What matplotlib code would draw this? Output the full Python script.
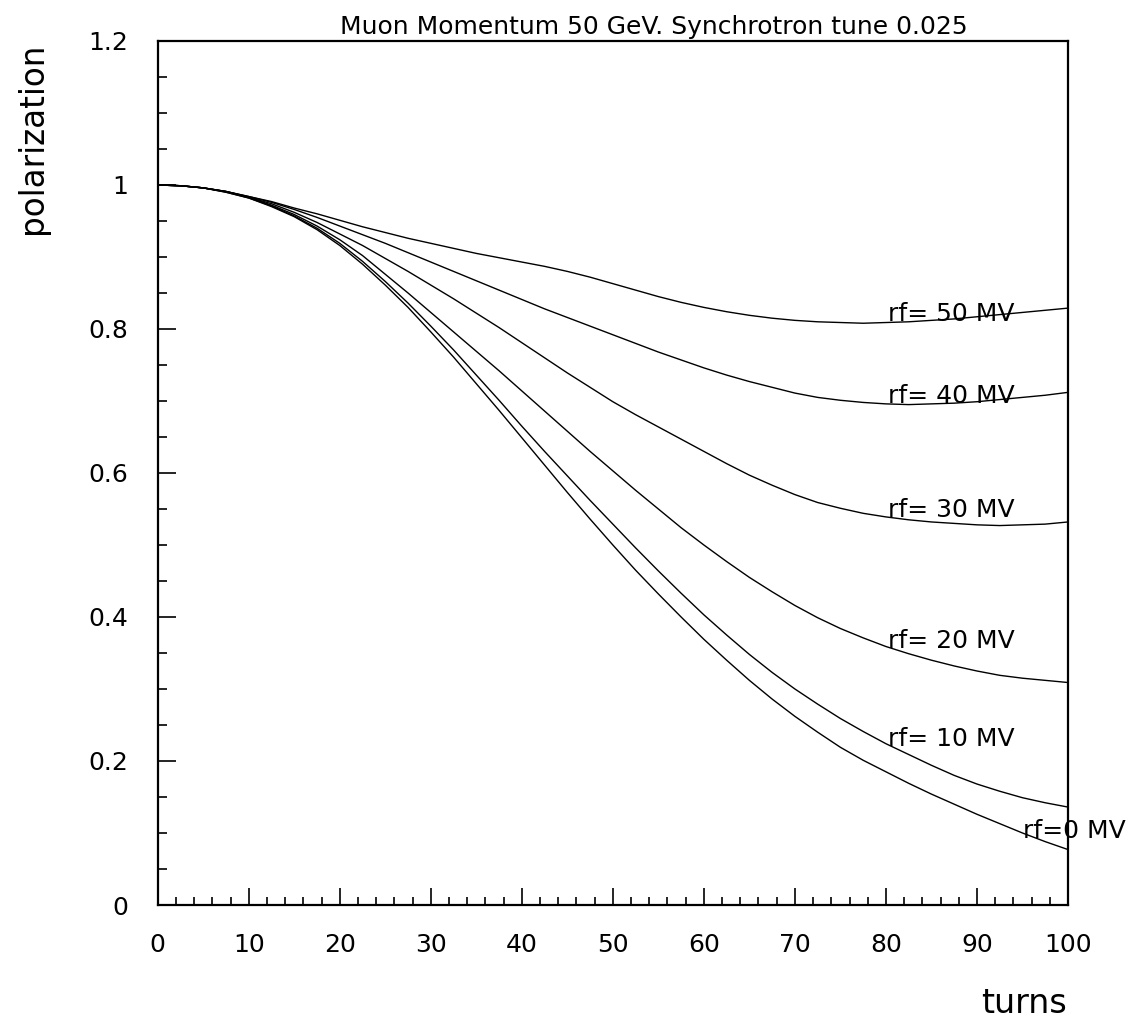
import numpy as np
import matplotlib
matplotlib.use("Agg")
import matplotlib.pyplot as plt
from matplotlib.ticker import MultipleLocator, FixedFormatter, FixedLocator

turns = [0, 2.5, 5, 7.5, 10, 12.5, 15, 17.5, 20, 22.5, 25, 27.5, 30, 32.5, 35, 37.5,
         40, 42.5, 45, 47.5, 50, 52.5, 55, 57.5, 60, 62.5, 65, 67.5, 70, 72.5, 75,
         77.5, 80, 82.5, 85, 87.5, 90, 92.5, 95, 97.5, 100]

rf0 = [1.000, 0.999, 0.996, 0.990, 0.982, 0.970, 0.956, 0.938, 0.916, 0.890, 0.861,
       0.830, 0.796, 0.761, 0.724, 0.687, 0.649, 0.611, 0.573, 0.536, 0.500,
       0.465, 0.432, 0.400, 0.369, 0.340, 0.312, 0.286, 0.262, 0.240, 0.219,
       0.201, 0.185, 0.169, 0.154, 0.140, 0.126, 0.113, 0.100, 0.088, 0.077]
rf10 = [1.000, 0.999, 0.996, 0.990, 0.982, 0.971, 0.957, 0.940, 0.919, 0.894, 0.866,
        0.836, 0.804, 0.771, 0.736, 0.701, 0.665, 0.630, 0.596, 0.562, 0.529,
        0.496, 0.464, 0.433, 0.403, 0.375, 0.348, 0.323, 0.300, 0.279, 0.259,
        0.241, 0.224, 0.209, 0.194, 0.180, 0.168, 0.158, 0.149, 0.142, 0.136]
rf20 = [1.000, 0.999, 0.996, 0.991, 0.983, 0.972, 0.959, 0.943, 0.924, 0.902, 0.876,
        0.850, 0.823, 0.796, 0.769, 0.742, 0.714, 0.686, 0.658, 0.630, 0.603,
        0.576, 0.550, 0.524, 0.500, 0.477, 0.455, 0.435, 0.416, 0.399, 0.384,
        0.371, 0.359, 0.349, 0.340, 0.332, 0.325, 0.319, 0.315, 0.312, 0.309]
rf30 = [1.000, 0.999, 0.996, 0.991, 0.983, 0.974, 0.962, 0.948, 0.932, 0.916, 0.898,
        0.880, 0.861, 0.842, 0.822, 0.802, 0.781, 0.760, 0.739, 0.719, 0.699,
        0.681, 0.664, 0.647, 0.630, 0.613, 0.597, 0.583, 0.570, 0.559, 0.551,
        0.544, 0.539, 0.535, 0.532, 0.530, 0.528, 0.527, 0.528, 0.529, 0.532]
rf40 = [1.000, 0.999, 0.996, 0.991, 0.984, 0.976, 0.966, 0.955, 0.943, 0.931, 0.919,
        0.906, 0.893, 0.880, 0.867, 0.854, 0.841, 0.828, 0.816, 0.804, 0.792,
        0.780, 0.768, 0.757, 0.746, 0.736, 0.727, 0.719, 0.711, 0.705, 0.701,
        0.698, 0.696, 0.695, 0.696, 0.697, 0.699, 0.702, 0.705, 0.708, 0.712]
rf50 = [1.000, 0.999, 0.996, 0.991, 0.984, 0.977, 0.968, 0.960, 0.951, 0.942, 0.934,
        0.926, 0.919, 0.912, 0.905, 0.899, 0.893, 0.887, 0.880, 0.872, 0.863,
        0.854, 0.845, 0.837, 0.830, 0.824, 0.819, 0.815, 0.812, 0.810, 0.809,
        0.808, 0.809, 0.810, 0.812, 0.814, 0.817, 0.820, 0.823, 0.826, 0.829]

series = [rf0, rf10, rf20, rf30, rf40, rf50]
labels = ["rf=0 MV", "rf= 10 MV", "rf= 20 MV", "rf= 30 MV", "rf= 40 MV", "rf= 50 MV"]
label_x = [95.1, 80.2, 80.2, 80.2, 80.2, 80.2]
label_y = [0.103, 0.231, 0.367, 0.549, 0.707, 0.821]

xticks = [0, 10, 20, 30, 40, 50, 60, 70, 80, 90, 100]
yticks = [0, 0.2, 0.4, 0.6, 0.8, 1.0, 1.2]
yticklabels = ["0", "0.2", "0.4", "0.6", "0.8", "1", "1.2"]

plt.rcParams['font.family'] = ['DejaVu Sans']

W, H = 1128, 1021
fig = plt.figure(figsize=(W / 100, H / 100), dpi=100)
ax = fig.add_axes([157.7 / W, (H - 905) / H, (1068 - 157.7) / W, (905 - 41) / H])

for s in series:
    ax.plot(turns, s, color='black', lw=1.0)

for lab, lx, ly in zip(labels, label_x, label_y):
    ax.text(lx, ly, lab, fontsize=18, ha='left', va='center', clip_on=False)

ax.set_xlim(0, 100)
ax.set_ylim(0, 1.2)
ax.xaxis.set_major_locator(FixedLocator(xticks))
ax.xaxis.set_minor_locator(MultipleLocator(2))
ax.yaxis.set_major_locator(FixedLocator(yticks))
ax.yaxis.set_major_formatter(FixedFormatter(yticklabels))
ax.yaxis.set_minor_locator(MultipleLocator(0.05))

for sp in ax.spines.values():
    sp.set_linewidth(1.6)

ax.tick_params(axis='both', which='both', direction='in', width=1.2, labelsize=18,
               top=False, right=False)
ax.tick_params(axis='x', which='major', length=12, pad=20)
ax.tick_params(axis='x', which='minor', length=6)
ax.tick_params(axis='y', which='major', length=13, pad=21)
ax.tick_params(axis='y', which='minor', length=6.5)

fig.text(340 / W, (H - 34) / H, "Muon Momentum 50 GeV. Synchrotron tune 0.025",
         fontsize=18, ha='left', va='baseline')
fig.text(1067 / W, (H - 1013) / H, "turns", fontsize=24, ha='right', va='baseline')
fig.text(33 / W, (H - 138) / H, "polarization", fontsize=23.5, rotation=90,
         ha='center', va='center')

fig.savefig("out.png", dpi=100)
